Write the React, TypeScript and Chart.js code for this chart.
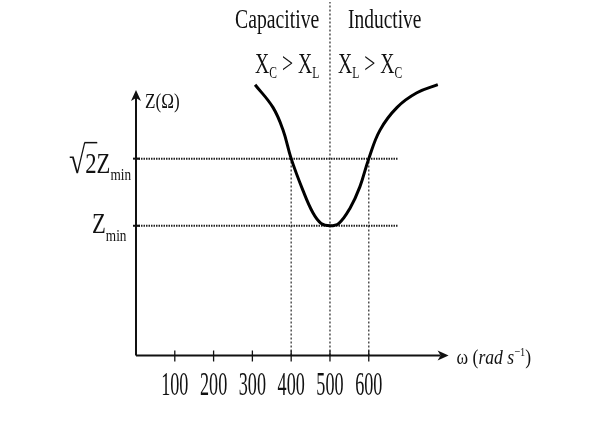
import { useEffect, useRef } from "react";
import { Chart, registerables } from "chart.js";

Chart.register(...registerables);

// Impedance of a series LCR circuit against angular frequency
const omega = [307, 353, 379, 400, 430, 456, 477, 500, 523, 552, 577, 600, 629, 673, 724, 778];
const impedance = [187, 173, 159, 141.4, 122, 108, 101.5, 100, 101.5, 111, 124, 141.4, 159, 173, 182, 187];
const omegaTicks = [100, 200, 300, 400, 500, 600];
const tickLabels = ["100", "200", "300", "400", "500", "600"];

const zMin = 100;
const zHalfPower = 141.4; // √2 · Zmin
const omegaLow = 400;
const omegaRes = 500;
const omegaHigh = 600;
const guideEnd = 675;

const omegaMax = 780;
const zFloor = 20;
const zTop = 238;

const FONT = '"Liberation Serif", "Times New Roman", serif';
const INK = "#111";

type Run = { t: string; size: number; dy?: number; italic?: boolean };

function fontOf(r: Run) {
  return `${r.italic ? "italic " : ""}${r.size}px ${FONT}`;
}

// Draws a row of text runs squeezed horizontally by sx; returns the x edges of each run.
function drawRuns(
  ctx: CanvasRenderingContext2D,
  runs: Run[],
  x: number,
  y: number,
  sx: number,
  align: "left" | "center" = "left"
) {
  const widths = runs.map((r) => {
    ctx.font = fontOf(r);
    return ctx.measureText(r.t).width * sx;
  });
  const total = widths.reduce((a, b) => a + b, 0);
  let cx = align === "center" ? x - total / 2 : x;
  const edges: number[] = [cx];
  runs.forEach((r, i) => {
    ctx.save();
    ctx.font = fontOf(r);
    ctx.textBaseline = "alphabetic";
    ctx.textAlign = "left";
    ctx.fillStyle = INK;
    ctx.translate(cx, y + (r.dy || 0));
    ctx.scale(sx, 1);
    ctx.fillText(r.t, 0, 0);
    ctx.restore();
    cx += widths[i];
    edges.push(cx);
  });
  return edges;
}

const axesPlugin = {
  id: "impedanceAxes",
  afterDatasetsDraw(chart: any) {
    const ctx: CanvasRenderingContext2D = chart.ctx;
    const xs = chart.scales.x;
    const ys = chart.scales.y;
    const x0 = xs.getPixelForValue(0);
    const yb = ys.getPixelForValue(zFloor);
    const xEnd = xs.right + 10;
    const yEnd = ys.getPixelForValue(zTop) + 88;

    ctx.save();
    ctx.strokeStyle = INK;
    ctx.fillStyle = INK;
    ctx.lineWidth = 2;

    // axis lines
    ctx.beginPath();
    ctx.moveTo(x0, yb);
    ctx.lineTo(xEnd - 8, yb);
    ctx.moveTo(x0, yb);
    ctx.lineTo(x0, yEnd + 8);
    ctx.stroke();

    // arrow heads
    ctx.beginPath();
    ctx.moveTo(xEnd, yb);
    ctx.lineTo(xEnd - 11, yb - 5);
    ctx.lineTo(xEnd - 8, yb);
    ctx.lineTo(xEnd - 11, yb + 5);
    ctx.closePath();
    ctx.fill();
    ctx.beginPath();
    ctx.moveTo(x0, yEnd);
    ctx.lineTo(x0 - 5, yEnd + 11);
    ctx.lineTo(x0, yEnd + 8);
    ctx.lineTo(x0 + 5, yEnd + 11);
    ctx.closePath();
    ctx.fill();

    // x ticks and labels
    ctx.lineWidth = 1.3;
    omegaTicks.forEach((v, i) => {
      const px = xs.getPixelForValue(v);
      ctx.beginPath();
      ctx.moveTo(px, yb - 5);
      ctx.lineTo(px, yb + 6);
      ctx.stroke();
      drawRuns(ctx, [{ t: tickLabels[i], size: 33 }], px, yb + 39, 0.55, "center");
    });

    // y ticks at Zmin and √2 Zmin
    [zMin, zHalfPower].forEach((v) => {
      const py = ys.getPixelForValue(v);
      ctx.lineWidth = 2;
      ctx.beginPath();
      ctx.moveTo(x0 - 3, py);
      ctx.lineTo(x0 + 4, py);
      ctx.stroke();
    });

    // axis titles
    drawRuns(ctx, [{ t: "Z(Ω)", size: 22 }], x0 + 9, yEnd + 18, 0.78);
    drawRuns(
      ctx,
      [
        { t: "ω", size: 22 },
        { t: " (", size: 22 },
        { t: "rad", size: 22, italic: true },
        { t: " ", size: 22 },
        { t: "s", size: 22, italic: true },
        { t: "−1", size: 13, dy: -8 },
        { t: ")", size: 22 },
      ],
      xEnd + 8,
      yb + 8,
      0.8
    );

    // y labels
    const yH = ys.getPixelForValue(zHalfPower);
    const e = drawRuns(
      ctx,
      [
        { t: "√", size: 38 },
        { t: "2Z", size: 29 },
        { t: "min", size: 17, dy: 7 },
      ],
      69,
      yH + 14,
      0.78
    );
    ctx.lineWidth = 1.5;
    ctx.beginPath();
    ctx.moveTo(e[1] - 1, yH - 16);
    ctx.lineTo(e[1] + 12, yH - 16);
    ctx.stroke();

    const yM = ys.getPixelForValue(zMin);
    drawRuns(
      ctx,
      [
        { t: "Z", size: 29 },
        { t: "min", size: 17, dy: 8 },
      ],
      92,
      yM + 7,
      0.78
    );

    // region headings
    drawRuns(ctx, [{ t: "Capacitive", size: 27 }], 235, 28, 0.73);
    drawRuns(ctx, [{ t: "Inductive", size: 27 }], 348, 28, 0.72);
    drawRuns(
      ctx,
      [
        { t: "X", size: 29 },
        { t: "C", size: 17, dy: 5 },
        { t: " > ", size: 29 },
        { t: "X", size: 29 },
        { t: "L", size: 17, dy: 5 },
      ],
      255,
      73,
      0.68
    );
    drawRuns(
      ctx,
      [
        { t: "X", size: 29 },
        { t: "L", size: 17, dy: 5 },
        { t: " > ", size: 29 },
        { t: "X", size: 29 },
        { t: "C", size: 17, dy: 5 },
      ],
      338,
      73,
      0.68
    );
    ctx.restore();
  },
};

export default function App() {
  const canvasRef = useRef<HTMLCanvasElement | null>(null);

  useEffect(() => {
    if (!canvasRef.current) return;
    const curve = omega.map((w, i) => ({ x: w, y: impedance[i] }));
    const hGuide = "#222";
    const vGuide = "#444";
    const chart = new Chart(canvasRef.current, {
      type: "line",
      data: {
        datasets: [
          {
            label: "Z",
            data: curve,
            borderColor: "#000",
            borderWidth: 3,
            pointRadius: 0,
            tension: 0.4,
            fill: false,
          },
          {
            label: "Zmin",
            data: [
              { x: 0, y: zMin },
              { x: guideEnd, y: zMin },
            ],
            borderColor: hGuide,
            borderWidth: 2,
            borderDash: [1.5, 1],
            pointRadius: 0,
          },
          {
            label: "√2 Zmin",
            data: [
              { x: 0, y: zHalfPower },
              { x: guideEnd, y: zHalfPower },
            ],
            borderColor: hGuide,
            borderWidth: 2,
            borderDash: [1.5, 1],
            pointRadius: 0,
          },
          {
            label: "ω1",
            data: [
              { x: omegaLow, y: zFloor },
              { x: omegaLow, y: zHalfPower },
            ],
            borderColor: vGuide,
            borderWidth: 1.4,
            borderDash: [2, 2],
            pointRadius: 0,
          },
          {
            label: "ω0",
            data: [
              { x: omegaRes, y: zFloor },
              { x: omegaRes, y: zTop },
            ],
            borderColor: vGuide,
            borderWidth: 1.4,
            borderDash: [2, 2],
            pointRadius: 0,
          },
          {
            label: "ω2",
            data: [
              { x: omegaHigh, y: zFloor },
              { x: omegaHigh, y: zHalfPower },
            ],
            borderColor: vGuide,
            borderWidth: 1.4,
            borderDash: [2, 2],
            pointRadius: 0,
          },
        ],
      },
      options: {
        animation: false,
        responsive: true,
        maintainAspectRatio: false,
        layout: { padding: { left: 136, right: 156.4, top: 2, bottom: 76.5 } },
        plugins: { legend: { display: false }, tooltip: { enabled: false } },
        scales: {
          x: { type: "linear", min: 0, max: omegaMax, display: false },
          y: { type: "linear", min: zFloor, max: zTop, display: false },
        },
      },
      plugins: [axesPlugin],
    });
    return () => chart.destroy();
  }, []);

  return (
    <div
      style={{
        position: "absolute",
        left: 0,
        top: 0,
        width: 595,
        height: 432,
        background: "#fff",
      }}
    >
      <canvas ref={canvasRef} />
    </div>
  );
}
